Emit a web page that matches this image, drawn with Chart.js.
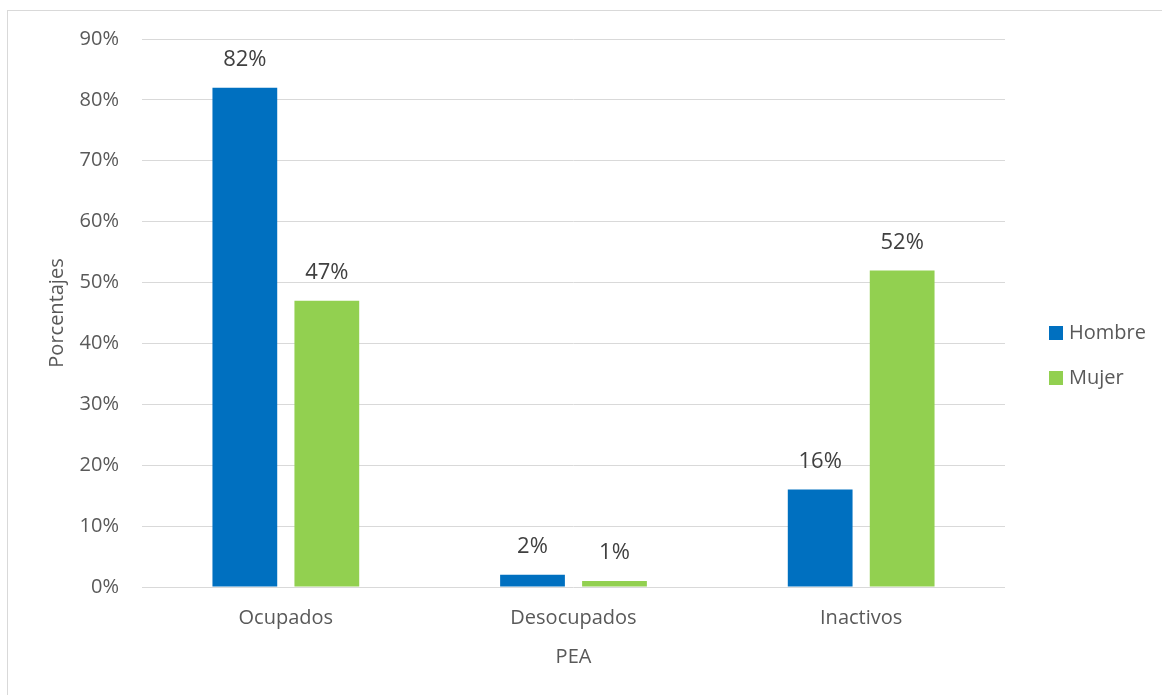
<!DOCTYPE html>
<html lang="es">
<head>
<meta charset="utf-8">
<title>PEA por sexo</title>
<script src="https://cdn.jsdelivr.net/npm/chart.js@4.4.1/dist/chart.umd.min.js"></script>
<style>
    html, body { margin: 0; padding: 0; background: #fff; overflow: hidden; }
    .frame { position: absolute; left: 7px; top: 10px; width: 1300px; height: 800px; border: 1px solid #d9d9d9; }
    .wrap { position: absolute; left: 0; top: 0; width: 1162px; height: 695px; }
</style>
</head>
<body>
<div class="frame"></div>
<div class="wrap"><canvas id="peaChart"></canvas></div>
<script>
const categories = ['Ocupados', 'Desocupados', 'Inactivos'];
const hombre = [82, 2, 16];
const mujer = [47, 1, 52];
const yTicks = [0, 10, 20, 30, 40, 50, 60, 70, 80, 90];

const textGray = '#595959';
const fontFamily = '"Open Sans", "Noto Sans", sans-serif';

// etiquetas de porcentaje encima de cada barra
const barLabels = {
    id: 'barLabels',
    afterDatasetsDraw(chart) {
        const ctx = chart.ctx;
        ctx.save();
        ctx.font = '22px ' + fontFamily;
        ctx.fillStyle = '#404040';
        ctx.textAlign = 'center';
        ctx.textBaseline = 'middle';
        chart.data.datasets.forEach((ds, i) => {
            chart.getDatasetMeta(i).data.forEach((bar, j) => {
                ctx.fillText(Math.round(ds.data[j]) + '%', bar.x, bar.y - 28);
            });
        });
        ctx.restore();
    }
};

// leyenda a la derecha, centrada en la altura del gráfico
const sideLegend = {
    id: 'sideLegend',
    afterDraw(chart) {
        const ctx = chart.ctx;
        const x = chart.chartArea.right + 44;
        const mid = chart.height / 2 + 8;
        const step = 45;
        const sets = chart.data.datasets;
        ctx.save();
        ctx.font = '20px ' + fontFamily;
        ctx.textBaseline = 'middle';
        ctx.textAlign = 'left';
        sets.forEach((ds, i) => {
            const y = mid + (i - (sets.length - 1) / 2) * step;
            ctx.fillStyle = ds.backgroundColor;
            ctx.fillRect(x, y - 7, 14, 14);
            ctx.fillStyle = textGray;
            ctx.fillText(ds.label, x + 20, y);
        });
        ctx.restore();
    }
};

new Chart(document.getElementById('peaChart'), {
    type: 'bar',
    data: {
        labels: categories,
        datasets: [
            { label: 'Hombre', data: hombre, backgroundColor: '#0070c0' },
            { label: 'Mujer', data: mujer, backgroundColor: '#92d050' }
        ]
    },
    options: {
        responsive: true,
        maintainAspectRatio: false,
        animation: false,
        categoryPercentage: 0.57,
        barPercentage: 0.79,
        layout: { padding: { top: 39, right: 157, bottom: 0, left: 0 } },
        plugins: {
            legend: { display: false },
            tooltip: { enabled: false }
        },
        scales: {
            x: {
                grid: { display: false },
                border: { display: false },
                ticks: { color: textGray, font: { family: fontFamily, size: 20 }, padding: 11 },
                title: {
                    display: true, text: 'PEA', color: textGray,
                    font: { family: fontFamily, size: 20 }, padding: { top: 0, bottom: 26 }
                },
                afterFit(s) { s.height = 108; }
            },
            y: {
                min: 0,
                max: 90,
                afterBuildTicks(s) { s.ticks = yTicks.map(v => ({ value: v })); },
                grid: { color: '#d9d9d9', lineWidth: 1, drawTicks: false },
                border: { display: false },
                ticks: {
                    color: textGray, font: { family: fontFamily, size: 20 }, padding: 23,
                    callback: v => v + '%'
                },
                title: {
                    display: true, text: 'Porcentajes', color: textGray,
                    font: { family: fontFamily, size: 20 }, padding: { top: 45, bottom: 0 }
                },
                afterFit(s) { s.width = 142; }
            }
        }
    },
    plugins: [barLabels, sideLegend]
});
</script>
</body>
</html>
